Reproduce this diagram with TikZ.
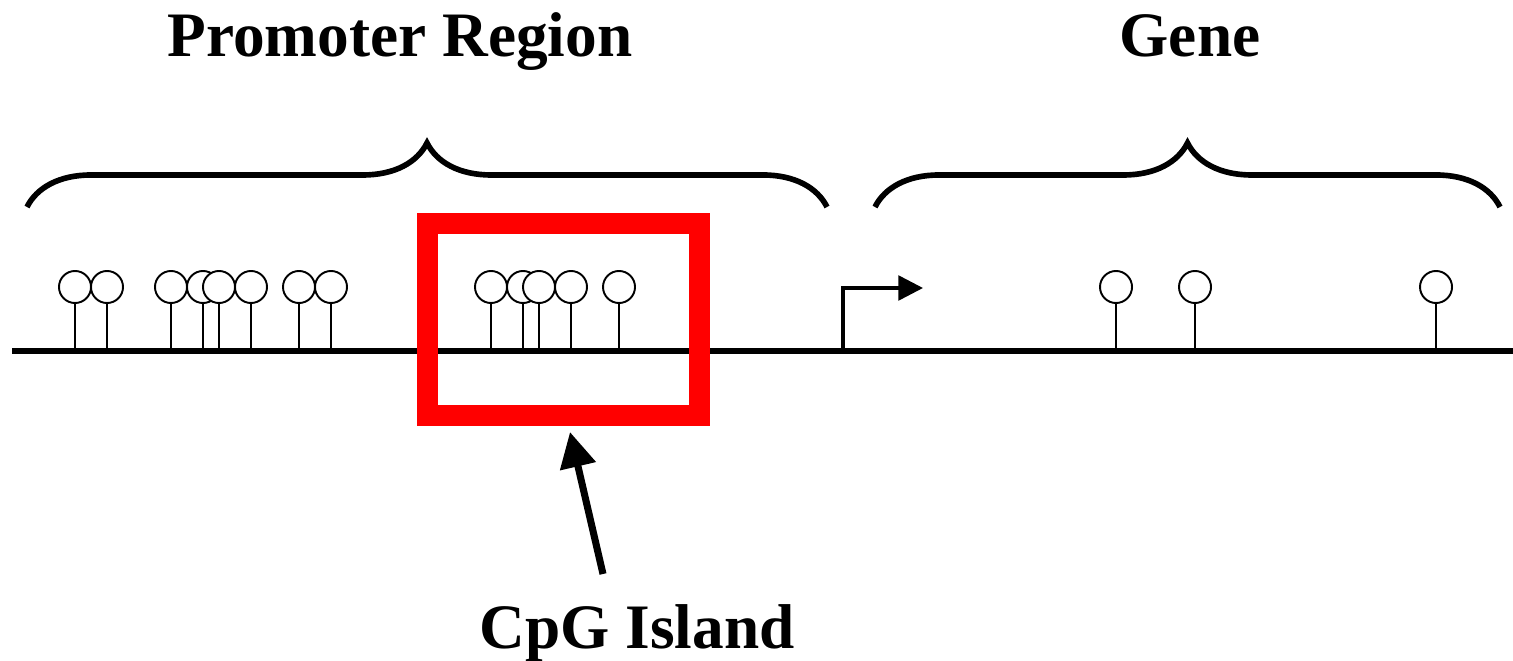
\documentclass[tikz,border=0pt]{standalone}
\usepackage{fontspec}
\setmainfont{Liberation Serif}
\usetikzlibrary{arrows.meta,positioning,decorations.pathreplacing}

\tikzset{
  site/.style={circle, draw, fill=white, line width=0.55pt, minimum size=0.32cm, inner sep=0pt},
  stem/.style={line width=0.55pt},
  regionbrace/.style={decorate, decoration={brace, amplitude=0.64cm}, line width=1.6pt},
  title/.style={font=\fontsize{18}{20}\selectfont\bfseries, inner sep=0pt, anchor=base},
}

\begin{document}
\begin{tikzpicture}[x=0.01cm, y=-0.01cm]
\useasboundingbox (0,0) rectangle (1513,661);
% DNA strand
\coordinate (dna start) at (12,351);
\coordinate (dna end) at (1513,351);
\draw[line width=1.6pt] (dna start) -- (dna end);
% CpG sites as lollipops
\foreach \x [count=\i] in {75,107,171,203,219,251,299,331,491,523,539,571,619,1116,1195,1436} {
  \node[site] (s\i) at (\x,287) {};
  \draw[stem] (s\i.south) -- (s\i.south |- dna start);
}
% braces and titles
\coordinate (prom left) at (27,207);
\coordinate (prom right) at (827,207);
\coordinate (gene left) at (875,207);
\coordinate (gene right) at (1500,207);
\draw[regionbrace] (prom left) -- (prom right);
\draw[regionbrace] (gene left) -- (gene right);
\node[title] (promoter) at (400,57) {Promoter Region};
\node[title] (gene) at (1190,57) {Gene};
% transcription start
\coordinate (tss) at (843,351);
\coordinate (tss tip) at (923,288);
\draw[line width=1pt, -{Triangle[length=7pt 0, width=7pt 0]}] (tss) |- (tss tip);
% island box and pointer
\node[draw=red, line width=0.21cm, minimum width=2.72cm, minimum height=1.92cm, inner sep=0pt] (island) at (563.5,319.5) {};
\node[title] (cpg) at (637,648) {CpG Island};
\coordinate (cpg tail) at (603,574);
\coordinate (island tip) at (570,432);
\draw[line width=2pt, -{Triangle[length=10pt 0, width=10pt 0]}] (cpg tail) -- (island tip);
\end{tikzpicture}
\end{document}
